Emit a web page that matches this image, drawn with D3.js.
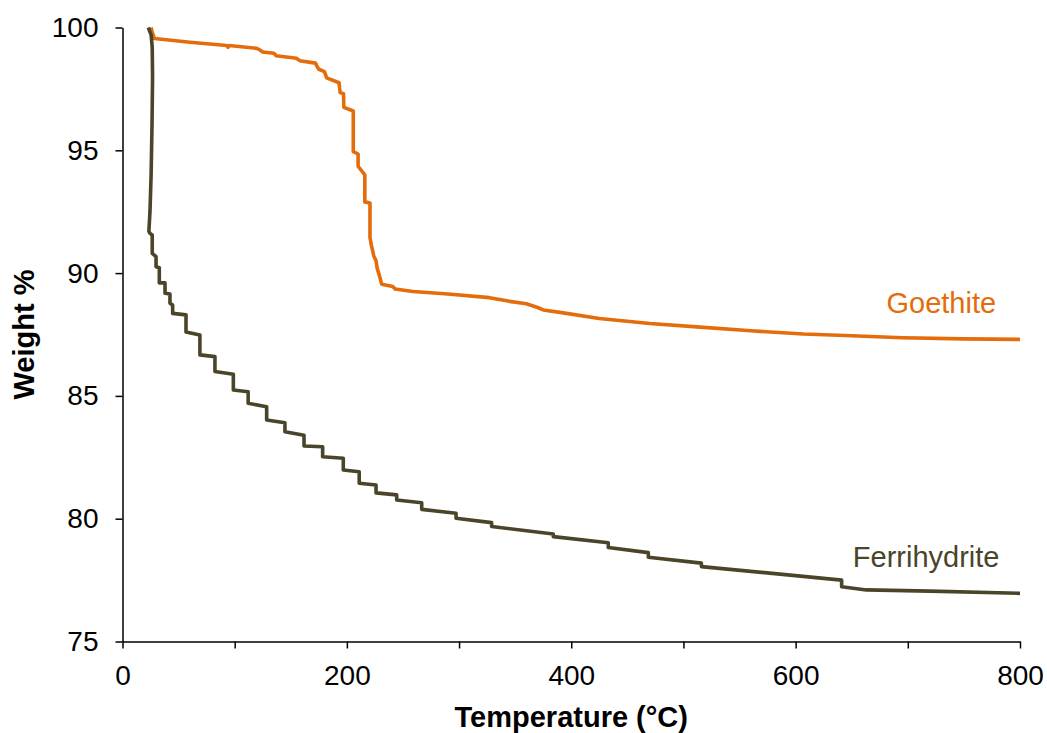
<!DOCTYPE html>
<html lang="en">
<head>
    <meta charset="UTF-8">
    <title>TGA curves</title>
    <script src="https://d3js.org/d3.v7.min.js"></script>
    <style>
        html, body {
            margin: 0;
            background: white;
            font-family: Arial, "Liberation Sans", sans-serif;
        }
        .axis path, .axis line {
            stroke: black;
            stroke-width: 1.5px;
        }
        .axis text {
            font-size: 28px;
            fill: black;
        }
    </style>
</head>
<body>
    <div id="chart"></div>
    <script>

        // temperature (°C) and weight %
        var goethiteT = [25.5, 26.5, 28.5, 60, 93, 94, 95, 119.6, 122, 125, 135, 137, 155, 158, 172, 173, 175, 180, 182,
            193, 194, 197, 197.3, 205.7, 205.7, 210, 210, 216, 216, 220.6, 220.6, 222, 224, 226, 227, 229, 231, 241, 243,
            259, 290, 327, 345, 360, 370, 375, 390, 425, 470, 515, 560, 607, 650, 695, 750, 800];
        var goethiteW = [100, 99.8, 99.55, 99.4, 99.27, 99.2, 99.27, 99.15, 99.1, 99.0, 98.95, 98.85, 98.75, 98.65, 98.55,
            98.45, 98.3, 98.2, 97.95, 97.75, 97.35, 97.3, 96.75, 96.6, 94.95, 94.85, 94.35, 94.0, 92.9, 92.85, 91.45, 91.1,
            90.7, 90.5, 90.2, 89.9, 89.55, 89.45, 89.35, 89.25, 89.15, 89.0, 88.85, 88.75, 88.6, 88.5, 88.4, 88.15, 87.95,
            87.8, 87.65, 87.52, 87.45, 87.37, 87.32, 87.3];

        var ferriT = [23, 25.5, 26.5, 26.8, 26.3, 25.5, 24.5, 23.5, 24.5, 26.5, 26.5, 29.9, 29.9, 32.8, 32.8, 37.9, 37.9,
            42.3, 42.3, 44.7, 44.7, 56.6, 56.6, 69, 69, 82.4, 82.4, 98.8, 98.8, 112, 112, 128.5, 128.5, 144.8, 144.8,
            161.8, 161.8, 178.4, 178.4, 196.8, 196.8, 211, 211, 226, 226, 244.4, 244.4, 266.7, 266.7, 297.3, 297.3,
            329, 329, 384, 384, 433, 433, 468.7, 468.7, 516, 516, 641, 641, 663, 720, 800];
        var ferriW = [100, 99.7, 99.2, 98, 96, 94, 92.5, 91.7, 91.62, 91.55, 90.8, 90.67, 90.26, 90.22, 89.6, 89.6, 89.18,
            89.15, 88.77, 88.7, 88.36, 88.3, 87.6, 87.48, 86.67, 86.6, 85.99, 85.88, 85.24, 85.17, 84.7, 84.56, 84.02,
            83.91, 83.54, 83.4, 82.96, 82.93, 82.52, 82.46, 81.98, 81.91, 81.44, 81.37, 81.05, 80.97, 80.76, 80.65,
            80.38, 80.22, 80.02, 79.84, 79.68, 79.38, 79.27, 79.02, 78.83, 78.62, 78.43, 78.19, 78.05, 77.5, 77.23,
            77.1, 77.05, 76.96];

        var xTicks = [0, 100, 200, 300, 400, 500, 600, 700, 800];
        var xTickLabels = ["0", "", "200", "", "400", "", "600", "", "800"];
        var yTicks = [75, 80, 85, 90, 95, 100];

        var width = 1047;
        var height = 733;

        var margin = {
            top: 27.5,
            left: 122.5,
            right: 27,
            bottom: 91.5
        };

        var svg = d3.select('#chart')
                    .append('svg')
                        .attr('width', width)
                        .attr('height', height);

        var plotW = width - margin.left - margin.right;
        var plotH = height - margin.top - margin.bottom;

        var g = svg.append('g')
            .attr('transform', 'translate(' + margin.left + ',' + margin.top + ')');

        var x_scale = d3.scaleLinear()
            .domain([0, 800])
            .range([0, plotW]);

        var y_scale = d3.scaleLinear()
            .domain([75, 100])
            .range([plotH, 0]);

        var x_axis = d3.axisBottom(x_scale)
            .tickValues(xTicks)
            .tickFormat(function(d, i){ return xTickLabels[i]; })
            .tickSize(7)
            .tickSizeOuter(0)
            .tickPadding(17);

        var y_axis = d3.axisLeft(y_scale)
            .tickValues(yTicks)
            .tickSize(7)
            .tickSizeOuter(0)
            .tickPadding(17);

        var line = d3.line()
            .x(function(d){ return x_scale(d[0]); })
            .y(function(d){ return y_scale(d[1]); });

        var series = [
            { name: 'Goethite', colour: '#E46C0A', pts: d3.zip(goethiteT, goethiteW) },
            { name: 'Ferrihydrite', colour: '#4A4529', pts: d3.zip(ferriT, ferriW) }
        ];

        g.selectAll('.curve')
            .data(series)
            .enter()
            .append('path')
                .attr('class', 'curve')
                .attr('fill', 'none')
                .attr('stroke', function(d){ return d.colour; })
                .attr('stroke-width', 3.6)
                .attr('stroke-linejoin', 'round')
                .attr('d', function(d){ return line(d.pts); });

        g.append('g')
            .attr('class', 'x axis')
            .attr('transform', 'translate(0,' + plotH + ')')
            .call(x_axis);

        g.append('g')
            .attr('class', 'y axis')
            .call(y_axis);

        // series labels
        g.append('text')
            .attr('x', x_scale(681))
            .attr('y', y_scale(88.38))
            .attr('fill', '#E46C0A')
            .style('font-size', '29px')
            .text('Goethite');

        g.append('text')
            .attr('x', x_scale(651))
            .attr('y', y_scale(78.03))
            .attr('fill', '#4A4529')
            .style('font-size', '29px')
            .text('Ferrihydrite');

        // axis titles
        svg.append('text')
            .attr('x', margin.left + x_scale(400))
            .attr('y', 727)
            .attr('text-anchor', 'middle')
            .style('font-size', '29px')
            .style('font-weight', 'bold')
            .text('Temperature (°C)');

        svg.append('text')
            .attr('transform', 'translate(34,' + (margin.top + y_scale(87.5)) + ')rotate(-90)')
            .attr('text-anchor', 'middle')
            .style('font-size', '29px')
            .style('font-weight', 'bold')
            .text('Weight %');

    </script>
</body>
</html>
